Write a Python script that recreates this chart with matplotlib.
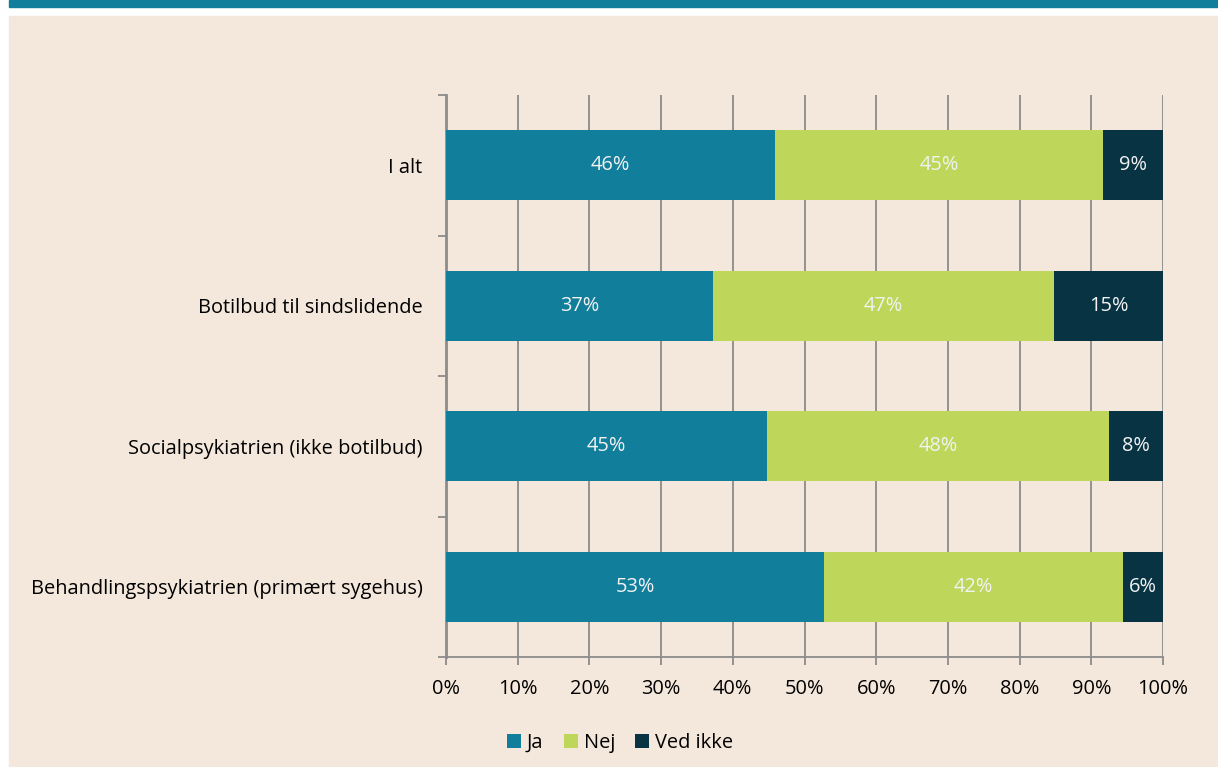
import matplotlib.pyplot as plt
import matplotlib.patches as mpatches
import numpy as np

plt.rcParams['font.family'] = ['Open Sans', 'DejaVu Sans']

# categories from bottom to top
categories = ['Behandlingspsykiatrien (primært sygehus)',
              'Socialpsykiatrien (ikke botilbud)',
              'Botilbud til sindslidende',
              'I alt']
series = ['Ja', 'Nej', 'Ved ikke']
ja = [52.7, 44.8, 37.2, 45.9]
nej = [41.7, 47.7, 47.6, 45.7]
ved_ikke = [5.6, 7.5, 15.2, 8.4]
# printed labels (as shown in the chart)
ja_lbl = ['53%', '45%', '37%', '46%']
nej_lbl = ['42%', '48%', '47%', '45%']
ved_lbl = ['6%', '8%', '15%', '9%']
xticks = np.arange(0, 101, 10)

colors = ['#117e9b', '#bed75a', '#073343']
beige = '#f4e8dc'
grey = '#8c8c8c'
fs = 14.4

W, H = 1218, 767
fig = plt.figure(figsize=(W / 100, H / 100), dpi=100, facecolor='white')
fig.patches.append(mpatches.Rectangle((9 / W, 0), 1, 1 - 16 / H, transform=fig.transFigure,
                                      color=beige, zorder=-10))
fig.patches.append(mpatches.Rectangle((9 / W, 1 - 7 / H), 1, 7 / H, transform=fig.transFigure,
                                      color='#117e9b', zorder=-10))

ax = fig.add_axes([446 / W, 1 - 657 / H, 717 / W, 562 / H])
ax.set_facecolor('none')

y = np.arange(len(categories))
left = np.zeros(len(categories))
for vals, lbls, c, name in zip([ja, nej, ved_ikke], [ja_lbl, nej_lbl, ved_lbl], colors, series):
    bars = ax.barh(y, vals, left=left, height=0.5, color=c, label=name, zorder=3)
    for b, t in zip(bars, lbls):
        ax.text(b.get_x() + b.get_width() / 2, b.get_y() + b.get_height() / 2, t,
                ha='center', va='center', color='#f2f2f2', fontsize=fs, zorder=4)
    left += np.array(vals)

ax.set_xlim(0, 100)
ax.set_ylim(-0.5, len(categories) - 0.5)
ax.set_xticks(xticks)
ax.set_xticklabels([f'{v}%' for v in xticks], fontsize=fs)
ax.set_yticks(y)
ax.set_yticklabels(categories, fontsize=fs)
ax.set_yticks(np.arange(-0.5, len(categories)), minor=True)
ax.tick_params(axis='y', which='major', length=0, pad=17)
ax.tick_params(axis='y', which='minor', length=6, width=1.3, color=grey)
ax.tick_params(axis='x', length=6, width=1.3, color=grey, pad=10)
ax.grid(axis='x', color=grey, linewidth=1.3, zorder=1)
ax.set_axisbelow(True)
for s in ['top', 'right']:
    ax.spines[s].set_visible(False)
ax.spines['left'].set_color(grey)
ax.spines['left'].set_linewidth(2)
ax.spines['bottom'].set_color(grey)
ax.spines['bottom'].set_linewidth(1.3)

fig.legend(loc='center', bbox_to_anchor=(620 / W, 1 - 743 / H), ncol=3, frameon=False,
           fontsize=fs, handlelength=0.7, handleheight=0.7, handletextpad=0.3,
           columnspacing=1.0)

fig.savefig('out.png', dpi=100, facecolor=fig.get_facecolor())
